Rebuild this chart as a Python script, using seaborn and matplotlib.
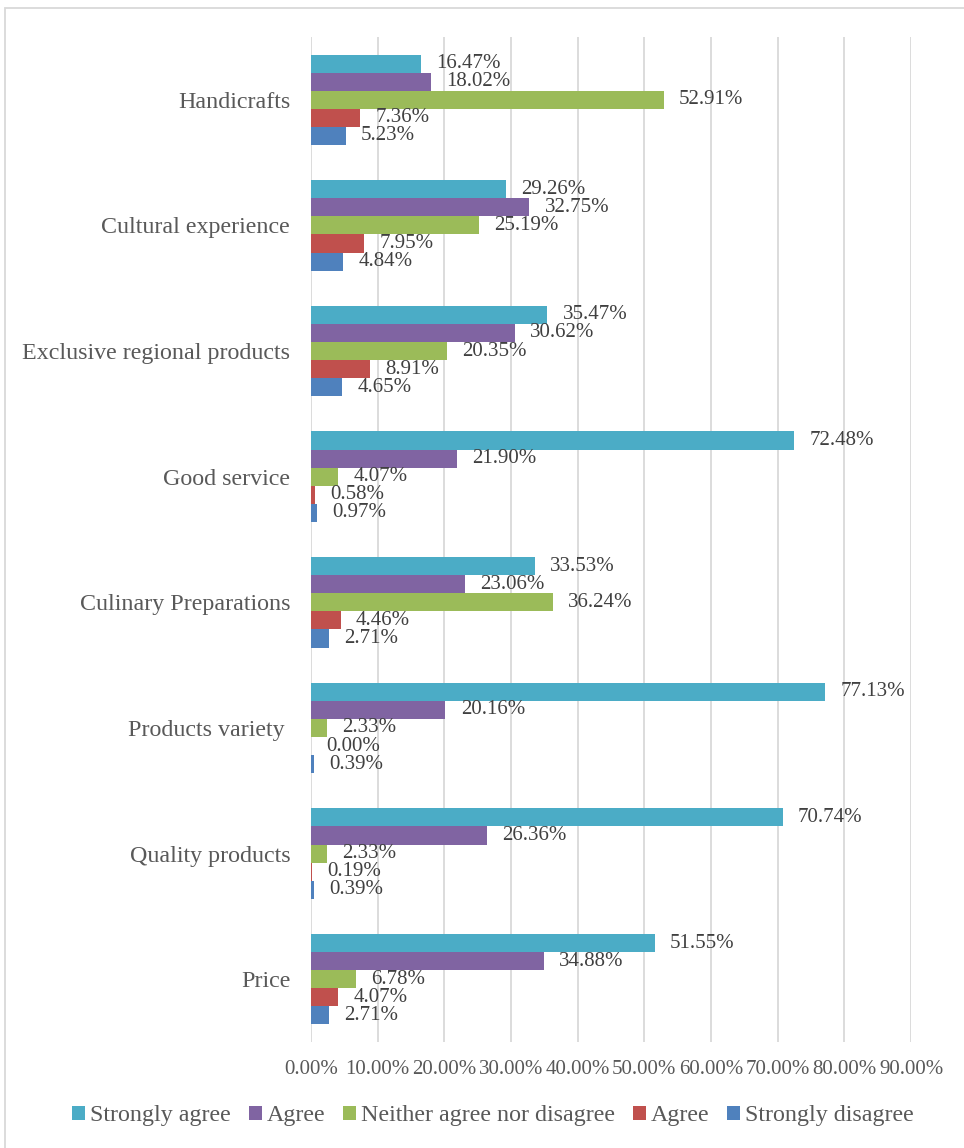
import numpy as np
import pandas as pd
import matplotlib
matplotlib.use("Agg")
import matplotlib.pyplot as plt
from matplotlib.patches import Rectangle
import seaborn as sns

# Survey items (top to bottom)
categories = [
    "Handicrafts",
    "Cultural experience",
    "Exclusive regional products",
    "Good service",
    "Culinary Preparations",
    "Products variety ",
    "Quality products",
    "Price",
]

# Response shares (%) per item, one list per answer level
strongly_agree = [16.47, 29.26, 35.47, 72.48, 33.53, 77.13, 70.74, 51.55]
agree = [18.02, 32.75, 30.62, 21.90, 23.06, 20.16, 26.36, 34.88]
neither = [52.91, 25.19, 20.35, 4.07, 36.24, 2.33, 2.33, 6.78]
disagree = [7.36, 7.95, 8.91, 0.58, 4.46, 0.00, 0.19, 4.07]
strongly_disagree = [5.23, 4.84, 4.65, 0.97, 2.71, 0.39, 0.39, 2.71]

series_keys = ["s_agree", "agree", "neither", "disagree", "s_disagree"]
legend_labels = ["Strongly agree", "Agree", "Neither agree nor disagree",
                 "Agree", "Strongly disagree"]
colors = ["#4BACC6", "#8064A2", "#9BBB59", "#C0504D", "#4F81BD"]
x_ticks = [0, 10, 20, 30, 40, 50, 60, 70, 80, 90]

values = [strongly_agree, agree, neither, disagree, strongly_disagree]
df = pd.DataFrame(
    [(cat, key, vals[i])
     for key, vals in zip(series_keys, values)
     for i, cat in enumerate(categories)],
    columns=["item", "response", "pct"],
)

sns.set_theme(style="white")
plt.rcParams["font.family"] = ["Liberation Serif", "DejaVu Serif"]

W, H = 964, 1148
fig = plt.figure(figsize=(W / 100, H / 100), dpi=100)
ax = fig.add_axes([311 / W, 1 - 1042 / H, (911 - 311) / W, (1042 - 37) / H])

sns.barplot(
    data=df, y="item", x="pct", hue="response",
    order=categories, hue_order=series_keys,
    palette=colors, orient="h", width=0.72, gap=0,
    linewidth=0, saturation=1, ax=ax, legend=True,
)

text_dark = "#404040"
text_gray = "#595959"
fs_small = 15
fs_big = 17.3

for cont in ax.containers:
    ax.bar_label(cont, labels=[f"{v:.2f}%" for v in cont.datavalues],
                 padding=11, fontsize=fs_small, color=text_dark)

ax.set_xlim(0, 90)
ax.set_ylim(len(categories) - 0.5, -0.5)
ax.set_xticks(x_ticks)
ax.set_xticklabels([f"{t:.2f}%" for t in x_ticks], fontsize=fs_small, color=text_gray)
ax.tick_params(axis="x", length=0, pad=13)
ax.tick_params(axis="y", length=0, pad=15, labelsize=fs_big, labelcolor=text_gray)
ax.set_xlabel("")
ax.set_ylabel("")
ax.grid(axis="x", color="#D9D9D9", linewidth=1.3)
ax.set_axisbelow(True)
for s in ax.spines.values():
    s.set_visible(False)

handles, _ = ax.get_legend_handles_labels()
ax.legend_.remove()
fig.legend(handles, legend_labels, loc="center", bbox_to_anchor=(493 / W, 1 - 1116 / H),
           ncol=5, frameon=False, fontsize=fs_big, labelcolor=text_gray,
           handlelength=0.55, handleheight=0.55, handletextpad=0.2,
           columnspacing=0.74)

# outer chart frame
fig.add_artist(Rectangle((5 / W, -0.05), 1.1, 1.05 - 8 / H,
                         transform=fig.transFigure, fill=False,
                         edgecolor="#D9D9D9", linewidth=1.3))

fig.savefig("out.png", dpi=100, facecolor="white")
